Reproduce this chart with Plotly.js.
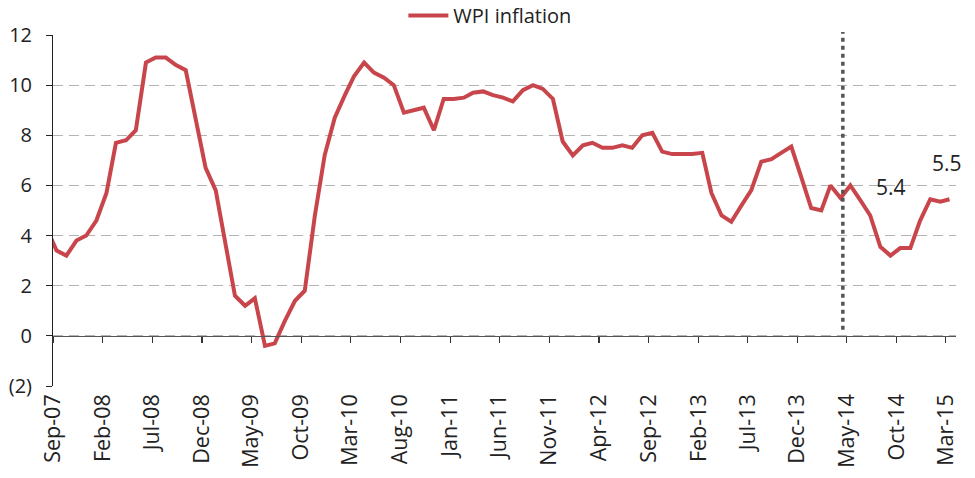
<!DOCTYPE html>
<html>
<head>
<meta charset="utf-8">
<script src="https://cdn.plot.ly/plotly-3.0.1.min.js"></script>
<style>html,body{margin:0;padding:0;background:#fff;}#chart{width:975px;height:478px;}</style>
</head>
<body>
<div id="chart"></div>
<script>
// Months (observation month, data dated around the 12th of each month)
const months = [
  '2007-08','2007-09','2007-10','2007-11','2007-12',
  '2008-01','2008-02','2008-03','2008-04','2008-05','2008-06','2008-07','2008-08','2008-09','2008-10','2008-11','2008-12',
  '2009-01','2009-02','2009-03','2009-04','2009-05','2009-06','2009-07','2009-08','2009-09','2009-10','2009-11','2009-12',
  '2010-01','2010-02','2010-03','2010-04','2010-05','2010-06','2010-07','2010-08','2010-09','2010-10','2010-11','2010-12',
  '2011-01','2011-02','2011-03','2011-04','2011-05','2011-06','2011-07','2011-08','2011-09','2011-10','2011-11','2011-12',
  '2012-01','2012-02','2012-03','2012-04','2012-05','2012-06','2012-07','2012-08','2012-09','2012-10','2012-11','2012-12',
  '2013-01','2013-02','2013-03','2013-04','2013-05','2013-06','2013-07','2013-08','2013-09','2013-10','2013-11','2013-12',
  '2014-01','2014-02','2014-03','2014-04','2014-05','2014-06','2014-07','2014-08','2014-09','2014-10','2014-11','2014-12',
  '2015-01','2015-02','2015-03'
];
// WPI inflation, % y/y
const wpi = [
  4.3, 3.4, 3.2, 3.8, 4.0,
  4.6, 5.7, 7.7, 7.8, 8.2, 10.9, 11.1, 11.1, 10.8, 10.6, 8.7, 6.7,
  5.8, 3.6, 1.6, 1.2, 1.5, -0.4, -0.3, 0.6, 1.4, 1.8, 4.8, 7.2,
  8.7, 9.6, 10.35, 10.9, 10.5, 10.3, 10.0, 8.9, 9.0, 9.1, 8.2, 9.45,
  9.45, 9.5, 9.7, 9.75, 9.6, 9.5, 9.35, 9.8, 10.0, 9.85, 9.45, 7.75,
  7.2, 7.6, 7.7, 7.5, 7.5, 7.6, 7.5, 8.0, 8.1, 7.35, 7.25, 7.25,
  7.25, 7.3, 5.7, 4.8, 4.55, 5.2, 5.8, 6.95, 7.05, 7.3, 7.55, 6.35,
  5.1, 5.0, 6.0, 5.5, 6.0, 5.4, 4.8, 3.55, 3.2, 3.5, 3.5, 4.6,
  5.45, 5.35, 5.45
];
const seriesName = 'WPI inflation';
const yTickVals = [-2, 0, 2, 4, 6, 8, 10, 12];
const yTickText = ['(2)', '0', '2', '4', '6', '8', '10', '12'];
const labelTexts = ['5.4', '5.5'];

const dates = months.map(m => m + '-12');
const xRange = ['2007-09-01', '2015-04-01'];
const yRange = [-2, 12];
const fontFam = '"Open Sans", "Noto Sans", sans-serif';
const zeroPos = (0 - yRange[0]) / (yRange[1] - yRange[0]);

const traces = [
  {
    x: dates, y: wpi, type: 'scatter', mode: 'lines', name: seriesName,
    line: {color: '#c8464b', width: 4},
    cliponaxis: true, hoverinfo: 'x+y'
  },
  {
    x: [dates[1]], y: [null], type: 'scatter', mode: 'lines', xaxis: 'x2',
    showlegend: false, hoverinfo: 'skip'
  }
];

const layout = {
  width: 975, height: 478,
  margin: {l: 53, r: 19, t: 35, b: 92, autoexpand: false},
  paper_bgcolor: '#ffffff', plot_bgcolor: '#ffffff',
  font: {family: fontFam, size: 19, color: '#222'},
  showlegend: true,
  legend: {
    orientation: 'h', x: 0.388, xanchor: 'left', y: 1.0, yanchor: 'bottom',
    font: {family: fontFam, size: 20, color: '#222'},
    bgcolor: 'rgba(0,0,0,0)', itemwidth: 40
  },
  xaxis: {
    type: 'date', range: xRange, automargin: false,
    tick0: '2007-09-01', dtick: 'M5', tickformat: '%b-%y',
    tickangle: -90, ticks: '', showline: false, showgrid: false, zeroline: false,
    ticklabelstandoff: 3,
    tickfont: {family: fontFam, size: 21.5, color: '#222'}
  },
  xaxis2: {
    type: 'date', range: xRange, overlaying: 'x', anchor: 'free', position: zeroPos,
    tick0: '2007-09-01', dtick: 'M5', automargin: false,
    showticklabels: false, ticks: 'outside', ticklen: 6, tickwidth: 1.2, tickcolor: '#333',
    showline: true, linecolor: '#555', linewidth: 1.5, showgrid: false, zeroline: false
  },
  yaxis: {
    range: yRange, tickvals: yTickVals, ticktext: yTickText, automargin: false,
    ticks: 'outside', ticklen: 6, tickcolor: '#222', tickwidth: 1,
    showline: true, linecolor: '#222', linewidth: 1,
    showgrid: true, gridcolor: '#b3b3b3', gridwidth: 1, griddash: '10px,6px',
    zeroline: false, ticklabelstandoff: 10,
    tickfont: {family: fontFam, size: 20, color: '#222'}
  },
  shapes: [
    {
      type: 'line', xref: 'x', yref: 'paper',
      x0: '2014-04-19', x1: '2014-04-19', y0: 0.16, y1: 1.0086,
      line: {color: '#555555', width: 3.5, dash: '4px,4px'}
    }
  ],
  annotations: [
    {x: '2014-09-14', y: 5.94, xref: 'x', yref: 'y', text: labelTexts[0], showarrow: false,
     font: {family: fontFam, size: 21, color: '#222'}},
    {x: '2015-03-04', y: 6.88, xref: 'x', yref: 'y', text: labelTexts[1], showarrow: false,
     font: {family: fontFam, size: 21, color: '#222'}}
  ]
};

Plotly.newPlot('chart', traces, layout, {displayModeBar: false, staticPlot: true});
</script>
</body>
</html>
